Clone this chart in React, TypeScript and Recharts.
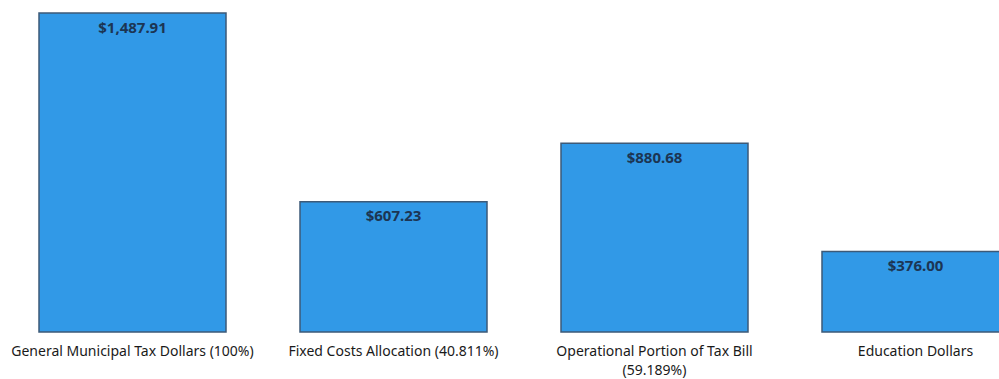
import React from 'react';
import { BarChart, Bar, XAxis, YAxis, LabelList } from 'recharts';

const categories = [
  'General Municipal Tax Dollars (100%)',
  'Fixed Costs Allocation (40.811%)',
  'Operational Portion of Tax Bill\n(59.189%)',
  'Education Dollars',
];
const amounts = [1487.91, 607.23, 880.68, 376.0];

const data = categories.map((name, i) => ({ name, amount: amounts[i] }));

const money = (v: any) =>
  '$' + Number(v).toLocaleString('en-US', { minimumFractionDigits: 2, maximumFractionDigits: 2 });

const CategoryTick = (props: any) => {
  const { x, y, payload } = props;
  const lines = String(payload.value).split('\n');
  return (
    <text x={x} y={y + 24} textAnchor="middle" fill="#1a1a1a" fontSize={14} fontFamily="'Noto Sans', sans-serif">
      {lines.map((line, i) => (
        <tspan key={i} x={x} dy={i === 0 ? 0 : 19}>
          {line}
        </tspan>
      ))}
    </text>
  );
};

const App: React.FC = () => {
  return (
    <div style={{ position: 'fixed', left: 0, top: 0, width: 999, height: 379, overflow: 'hidden', background: '#fff' }}>
      <BarChart width={1046} height={379} data={data} margin={{ top: 13, right: 0, left: 2, bottom: 0 }} barSize={187}>
        <XAxis
          dataKey="name"
          axisLine={false}
          tickLine={false}
          tickSize={0}
          tickMargin={0}
          height={47}
          interval={0}
          tick={<CategoryTick />}
        />
        <YAxis hide domain={[0, 1487.91]} />
        <Bar dataKey="amount" fill="#3199e7" stroke="#3d5a78" strokeWidth={1.5} isAnimationActive={false}>
          <LabelList
            dataKey="amount"
            position="insideTop"
            offset={9}
            formatter={money}
            fill="#1c3553"
            fontSize={15}
            fontWeight="bold"
            fontFamily="'Noto Sans', sans-serif"
          />
        </Bar>
      </BarChart>
    </div>
  );
};

export default App;
